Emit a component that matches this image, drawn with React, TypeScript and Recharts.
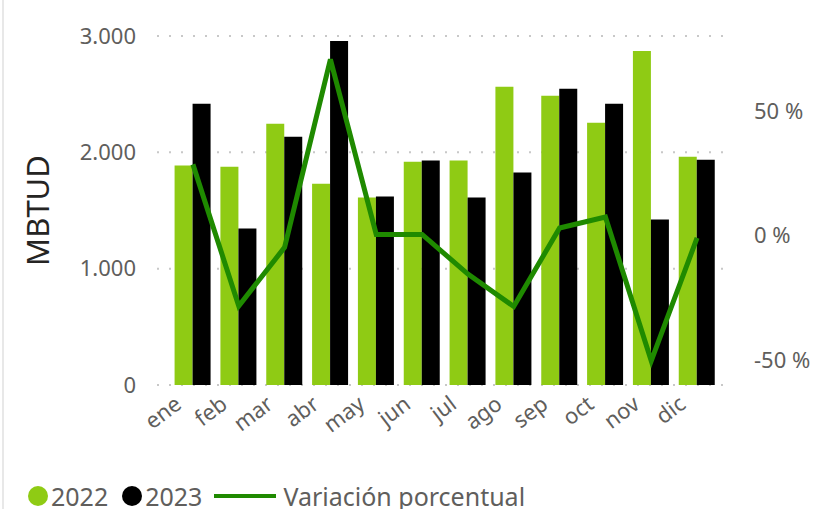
import React from "react";
import {
  ComposedChart,
  Bar,
  Line,
  XAxis,
  YAxis,
  CartesianGrid,
  Legend,
} from "recharts";

const months = ["ene", "feb", "mar", "abr", "may", "jun", "jul", "ago", "sep", "oct", "nov", "dic"];
const values2022 = [1886, 1877, 2246, 1731, 1611, 1920, 1929, 2563, 2486, 2254, 2871, 1963];
const values2023 = [2417, 1346, 2134, 2957, 1620, 1929, 1611, 1826, 2546, 2417, 1423, 1937];
const variacion = [28.5, -28.3, -4.8, 70.6, 0.4, 0.4, -15.5, -28.5, 3.0, 7.4, -50.3, -1.0];
const leftTicks = [0, 1000, 2000, 3000];
const rightTicks = [-50, 0, 50];

const GREEN = "#8FCB14";
const LINE = "#1F8A00";
const TEXT = "#605E5C";
const FONT = "'Noto Sans', 'Open Sans', sans-serif";

const data = months.map((m, i) => ({
  month: m,
  y2022: values2022[i],
  y2023: values2023[i],
  pct: variacion[i],
}));

const fmtThousands = (v: number) =>
  v === 0 ? "0" : v.toLocaleString("de-DE");

function XTick(props: any) {
  const { x, y, payload } = props;
  return (
    <g transform={`translate(${x - 10},${y + 14})`}>
      <text
        textAnchor="end"
        transform="rotate(-37)"
        fill={TEXT}
        fontSize={22}
        fontFamily={FONT}
      >
        {payload.value}
      </text>
    </g>
  );
}

function LegendContent() {
  return (
    <div
      style={{
        display: "flex",
        alignItems: "center",
        fontFamily: FONT,
        fontSize: 25,
        color: TEXT,
        paddingLeft: 28,
      }}
    >
      <span style={{ width: 20, height: 20, borderRadius: 10, background: GREEN, display: "inline-block", marginRight: 3 }} />
      <span style={{ marginRight: 14 }}>2022</span>
      <span style={{ width: 20, height: 20, borderRadius: 10, background: "#000", display: "inline-block", marginRight: 3 }} />
      <span style={{ marginRight: 12 }}>2023</span>
      <span style={{ width: 62, height: 4, background: LINE, display: "inline-block", marginRight: 7 }} />
      <span>Variación porcentual</span>
    </div>
  );
}

export default function App() {
  return (
    <div style={{ position: "absolute", left: 0, top: 0, width: 830, height: 509, background: "#fff", overflow: "hidden" }}>
      <div style={{ position: "absolute", left: 2, top: 0, width: 2, height: 509, background: "#e8e8e8" }} />
      <ComposedChart
        width={830}
        height={509}
        data={data}
        margin={{ top: 36, right: 0, left: 0, bottom: 0 }}
        barGap={0}
        barCategoryGap="10%"
      >
        <CartesianGrid
          yAxisId="left"
          vertical={false}
          stroke="#c8c8c8"
          strokeWidth={2}
          strokeDasharray="2 10"
        />
        <XAxis
          dataKey="month"
          axisLine={false}
          tickLine={false}
          interval={0}
          height={90}
          padding={{ left: 13, right: 13 }}
          tick={<XTick />}
        />
        <YAxis
          yAxisId="left"
          domain={[0, 3000]}
          ticks={leftTicks}
          width={157}
          axisLine={false}
          tickLine={false}
          tickSize={0}
          tickMargin={21}
          tickFormatter={fmtThousands}
          tick={{ fill: TEXT, fontSize: 22, fontFamily: FONT }}
          label={{
            value: "MBTUD",
            angle: -90,
            position: "insideLeft",
            offset: 38,
            fill: "#252423",
            fontSize: 31,
            fontFamily: FONT,
            style: { textAnchor: "middle" },
          }}
        />
        <YAxis
          yAxisId="right"
          orientation="right"
          domain={[-60, 80]}
          ticks={rightTicks}
          width={97}
          axisLine={false}
          tickLine={false}
          tickSize={0}
          tickMargin={21}
          tickFormatter={(v: number) => `${v} %`}
          tick={{ fill: TEXT, fontSize: 22, fontFamily: FONT }}
        />
        <Bar yAxisId="left" dataKey="y2022" fill={GREEN} isAnimationActive={false} />
        <Bar yAxisId="left" dataKey="y2023" fill="#000000" isAnimationActive={false} />
        <Line
          yAxisId="right"
          dataKey="pct"
          stroke={LINE}
          strokeWidth={5}
          dot={false}
          type="linear"
          isAnimationActive={false}
        />
        <Legend
          content={<LegendContent />}
          wrapperStyle={{ position: "absolute", left: 0, top: 479, width: 830 }}
        />
      </ComposedChart>
    </div>
  );
}
